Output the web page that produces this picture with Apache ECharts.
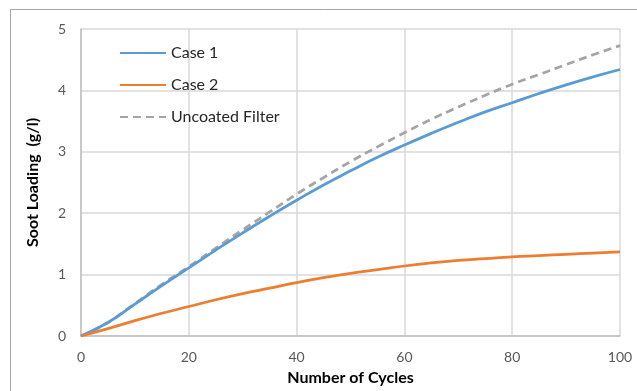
<!DOCTYPE html>
<html><head><meta charset="utf-8">
<script src="https://cdn.jsdelivr.net/npm/echarts@6/dist/echarts.min.js"></script>
<style>html,body{margin:0;padding:0;background:#fff}#c{width:637px;height:391px}</style>
</head><body><div id="c"></div>
<script>
const cycles = [0,5,10,15,20,25,30,35,40,45,50,55,60,65,70,75,80,85,90,95,100];
const case1 = [0,0.22,0.52,0.82,1.11,1.40,1.68,1.95,2.21,2.46,2.69,2.91,3.11,3.30,3.48,3.65,3.80,3.95,4.09,4.22,4.34];
const case2 = [0,0.12,0.25,0.37,0.48,0.59,0.69,0.78,0.87,0.95,1.02,1.08,1.14,1.19,1.23,1.26,1.29,1.31,1.33,1.35,1.37];
const uncoated = [0,0.22,0.53,0.84,1.13,1.43,1.73,2.02,2.31,2.58,2.84,3.08,3.31,3.53,3.73,3.92,4.10,4.26,4.42,4.58,4.73];
const seriesNames = ['Case 1','Case 2','Uncoated Filter'];
const xTitle = 'Number of Cycles';
const yTitle = 'Soot Loading  (g/l)';

const font = 'Lato, "Open Sans", sans-serif';
const pair = arr => cycles.map((c,i)=>[c,arr[i]]);
const chart = echarts.init(document.getElementById('c'));
chart.setOption({
  animation:false,
  backgroundColor:'#fff',
  graphic:[{type:'rect',shape:{x:10.5,y:9.5,width:700,height:500},style:{fill:'none',stroke:'#a6a6a6',lineWidth:1},silent:true}],
  grid:{left:81,right:17,top:29,bottom:50},
  legend:{
    orient:'vertical',left:114,top:40,itemWidth:46,itemHeight:14,itemGap:16,
    itemStyle:{opacity:0},
    textStyle:{fontFamily:font,fontSize:16,color:'#262626'},
    data:seriesNames
  },
  xAxis:{
    type:'value',min:0,max:100,interval:20,
    name:xTitle,nameLocation:'middle',nameGap:34,
    nameTextStyle:{fontFamily:font,fontSize:16,fontWeight:'bold',color:'#000'},
    axisLine:{show:true,lineStyle:{color:'#bfbfbf',width:1.5}},
    axisTick:{show:false},
    axisLabel:{fontFamily:font,fontSize:14,color:'#595959',margin:14},
    splitLine:{show:true,lineStyle:{color:'#d9d9d9',width:1.5}}
  },
  yAxis:{
    type:'value',min:0,max:5,interval:1,
    name:yTitle,nameLocation:'middle',nameGap:40,
    nameTextStyle:{fontFamily:font,fontSize:16,fontWeight:'bold',color:'#000'},
    axisLine:{show:true,lineStyle:{color:'#bfbfbf',width:1.5}},
    axisTick:{show:false},
    axisLabel:{fontFamily:font,fontSize:14,color:'#595959',margin:15},
    splitLine:{show:true,lineStyle:{color:'#d9d9d9',width:1.5}}
  },
  series:[
    {name:seriesNames[0],type:'line',smooth:true,symbol:'none',data:pair(case1),lineStyle:{color:'#5b9bd5',width:2.75},itemStyle:{color:'#5b9bd5'},z:3},
    {name:seriesNames[1],type:'line',smooth:true,symbol:'none',data:pair(case2),lineStyle:{color:'#ed7d31',width:2.75},itemStyle:{color:'#ed7d31'},z:3},
    {name:seriesNames[2],type:'line',smooth:true,symbol:'none',data:pair(uncoated),lineStyle:{color:'#a5a5a5',width:2.75,type:[8,5]},itemStyle:{color:'#a5a5a5'},z:2}
  ]
});
</script></body></html>
